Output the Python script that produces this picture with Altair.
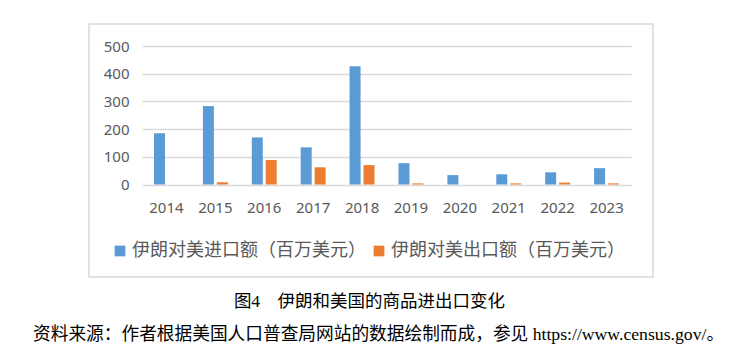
import altair as alt
import pandas as pd

years = ["2014", "2015", "2016", "2017", "2018", "2019", "2020", "2021", "2022", "2023"]
imports = [185, 283, 170, 134, 427, 77, 34, 37, 44, 59]
exports = [0, 8, 88, 62, 70, 4, 0, 4, 7, 4]
series_names = ["伊朗对美进口额（百万美元）", "伊朗对美出口额（百万美元）"]
series_colors = ["#5b9bd5", "#ed7d31"]
y_ticks = [0, 100, 200, 300, 400, 500]
title_text = "图4\u3000伊朗和美国的商品进出口变化"
source_text = "资料来源：作者根据美国人口普查局网站的数据绘制而成，参见 https://www.census.gov/。"

rows = []
for i, yr in enumerate(years):
    rows.append({"year": yr, "series": series_names[0], "value": imports[i]})
    rows.append({"year": yr, "series": series_names[1], "value": exports[i]})
df = pd.DataFrame(rows)

W, H = 489, 138.5

bars = alt.Chart(df).mark_bar().encode(
    x=alt.X("year:N", sort=years,
            scale=alt.Scale(paddingInner=0.49, paddingOuter=0.245),
            axis=alt.Axis(title=None, labelAngle=0, domain=False, ticks=False,
                          labelPadding=16, labelFontSize=15, labelFont="Noto Sans",
                          labelColor="#595959", grid=False)),
    xOffset=alt.XOffset("series:N", sort=series_names,
                        scale=alt.Scale(paddingInner=0.21, paddingOuter=0)),
    y=alt.Y("value:Q",
            scale=alt.Scale(domain=[0, 500], nice=False),
            axis=alt.Axis(title=None, values=y_ticks, domain=False, ticks=False,
                          labelPadding=13, labelFontSize=15, labelFont="Noto Sans",
                          labelColor="#595959", grid=True, gridColor="#d9d9d9",
                          gridWidth=1.5)),
    color=alt.Color("series:N", sort=series_names,
                    scale=alt.Scale(domain=series_names, range=series_colors),
                    legend=alt.Legend(title=None, orient="none", legendX=-31, legendY=196,
                                      direction="horizontal", symbolType="square",
                                      symbolSize=115, symbolStrokeWidth=0,
                                      labelFontSize=18, labelFont="Noto Sans CJK SC",
                                      labelColor="#595959", labelOffset=3,
                                      columnPadding=4, labelLimit=400)),
)

one = alt.Data(values=[{"k": 1}])

frame = alt.Chart(one).mark_rect(filled=False, stroke="#d9d9d9", strokeWidth=1.5).encode(
    x=alt.value(-53), x2=alt.value(511), y=alt.value(-22), y2=alt.value(231)
)

title = alt.Chart(one).mark_text(
    text=title_text, align="center", baseline="middle", fontSize=17.5,
    font="Liberation Serif, Noto Sans CJK SC", color="#000000"
).encode(x=alt.value(227.5), y=alt.value(256))

source = alt.Chart(one).mark_text(
    text=source_text, align="left", baseline="middle", fontSize=17.7,
    font="Liberation Serif, Noto Sans CJK SC", color="#000000"
).encode(x=alt.value(-109), y=alt.value(289))

chart = alt.layer(frame, bars, title, source).properties(
    width=W, height=H,
    autosize=alt.AutoSizeParams(type="none"),
    padding={"left": 134, "top": 38, "right": 109, "bottom": 170},
).configure_view(stroke=None)

chart.save("out.html", embed_options={"renderer": "svg", "actions": False})
